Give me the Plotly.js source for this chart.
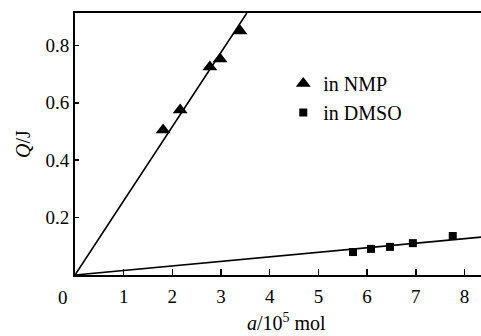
<!DOCTYPE html>
<html>
<head>
<meta charset="utf-8">
<script src="https://cdn.plot.ly/plotly-3.0.1.min.js"></script>
<style>html,body{margin:0;padding:0;background:#fff;}#chart{width:481px;height:336px;}</style>
</head>
<body>
<div id="chart"></div>
<script>
// Data
const nmpX = [1.81, 2.16, 2.77, 2.98, 3.39];
const nmpY = [0.505, 0.575, 0.725, 0.753, 0.850];
const dmsoX = [5.71, 6.08, 6.47, 6.94, 7.76];
const dmsoY = [0.080, 0.091, 0.098, 0.111, 0.136];
// Fitted lines (through origin)
const nmpFitX = [0, 3.53];
const nmpFitY = [0, 0.913];
const dmsoFitX = [0, 8.34];
const dmsoFitY = [0, 0.132];
const xTickVals = [1, 2, 3, 4, 5, 6, 7, 8];
const xTickText = ['1', '2', '3', '4', '5', '6', '7', '8'];
const yTickVals = [0.2, 0.4, 0.6, 0.8];
const yTickText = ['0.2', '0.4', '0.6', '0.8'];
const seriesNames = ['in NMP', 'in DMSO'];

const FONT = 'Liberation Serif, Times New Roman, serif';

const traces = [
  {x: nmpFitX, y: nmpFitY, mode: 'lines', line: {color: '#000', width: 1.6}, showlegend: false, hoverinfo: 'skip'},
  {x: dmsoFitX, y: dmsoFitY, mode: 'lines', line: {color: '#000', width: 1.6}, showlegend: false, hoverinfo: 'skip'},
  {x: nmpX, y: nmpY, mode: 'markers', name: seriesNames[0],
   marker: {symbol: 'triangle-up', size: 13, color: '#000'}},
  {x: dmsoX, y: dmsoY, mode: 'markers', name: seriesNames[1],
   marker: {symbol: 'square', size: 8, color: '#000'}}
];

const layout = {
  width: 481, height: 336,
  margin: {l: 75, r: 0, t: 13, b: 61},
  paper_bgcolor: '#fff', plot_bgcolor: '#fff',
  font: {family: FONT, size: 20, color: '#000'},
  showlegend: true,
  legend: {x: 0.513, y: 0.805, xanchor: 'left', yanchor: 'top', bgcolor: 'rgba(0,0,0,0)',
           font: {family: FONT, size: 20, color: '#000'}, tracegroupgap: 0, itemwidth: 30},
  xaxis: {
    range: [0, 8.34], showgrid: false, zeroline: false,
    showline: true, linecolor: '#000', linewidth: 2, mirror: true,
    ticks: 'inside', ticklen: 6, tickwidth: 1.5, tickcolor: '#000',
    tickvals: xTickVals, ticktext: xTickText, ticklabelstandoff: 3,
    tickfont: {family: FONT, size: 19, color: '#000'}
  },
  yaxis: {
    range: [0, 0.913], showgrid: false, zeroline: false,
    showline: true, linecolor: '#000', linewidth: 2,
    ticks: 'inside', ticklen: 4, tickwidth: 1.5, tickcolor: '#000',
    tickvals: yTickVals, ticktext: yTickText,
    tickfont: {family: FONT, size: 19, color: '#000'},
    title: {text: '<i>Q</i>/J', font: {family: FONT, size: 20, color: '#000'}, standoff: 9}
  },
  annotations: [
    {text: '0', xref: 'paper', yref: 'paper', x: -0.03, y: -0.084, xanchor: 'center', yanchor: 'middle',
     showarrow: false, font: {family: FONT, size: 19, color: '#000'}},
    {text: '<i>a</i>/10<sup>5</sup> mol', xref: 'paper', yref: 'paper', x: 0.522, y: -0.18,
     xanchor: 'center', yanchor: 'middle', showarrow: false,
     font: {family: FONT, size: 20, color: '#000'}}
  ]
};

Plotly.newPlot('chart', traces, layout, {staticPlot: true, displayModeBar: false});
</script>
</body>
</html>
